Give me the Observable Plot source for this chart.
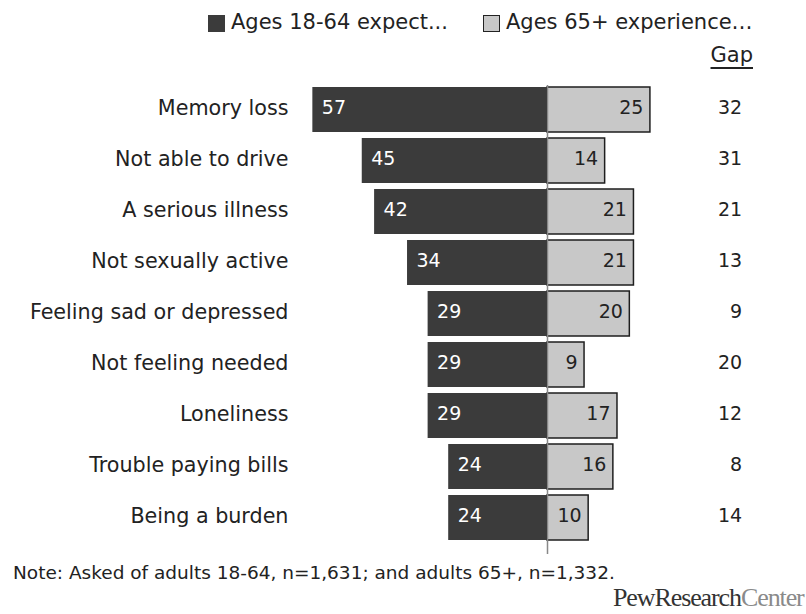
<!DOCTYPE html>
<html><head><meta charset="utf-8">
<script src="https://cdn.jsdelivr.net/npm/d3@7"></script>
<script src="https://cdn.jsdelivr.net/npm/@observablehq/plot@0.6"></script>
<style>
body{margin:0;background:#fff;font-family:"DejaVu Sans",sans-serif;color:#222;}
#wrap{position:relative;width:806px;height:614px;overflow:hidden;}
.sw{position:absolute;width:17px;height:17px;box-sizing:border-box;}
.lt{position:absolute;font-size:21px;line-height:21px;white-space:nowrap;}
#chart{position:absolute;left:0;top:70px;}
#note{position:absolute;left:13px;top:564px;font-size:18.5px;line-height:18.5px;white-space:nowrap;}
#pew{position:absolute;left:613px;top:585px;font-family:"Liberation Serif",serif;font-size:26px;line-height:26px;letter-spacing:-1.1px;color:#333;white-space:nowrap;}
#pew span{color:#8a8a8a;}
</style></head><body>
<div id="wrap">
  <div class="sw" style="left:208px;top:15px;background:#3b3b3b;"></div>
  <div class="lt" id="lg1" style="left:231px;top:12px;"></div>
  <div class="sw" style="left:483px;top:15px;background:#c8c8c8;border:1.5px solid #222;"></div>
  <div class="lt" id="lg2" style="left:506px;top:12px;"></div>
  <div class="lt" id="gaphdr" style="right:53px;top:45px;text-decoration:underline;text-decoration-thickness:2px;text-underline-offset:5px;"></div>
  <div id="chart"></div>
  <div id="note"></div>
  <div id="pew">PewResearch<span>Center</span></div>
</div>
<script>
const categories = ["Memory loss","Not able to drive","A serious illness","Not sexually active","Feeling sad or depressed","Not feeling needed","Loneliness","Trouble paying bills","Being a burden"];
const young = [57,45,42,34,29,29,29,24,24];
const old = [25,14,21,21,20,9,17,16,10];
const gaps = [32,31,21,13,9,20,12,8,14];
const seriesNames = ["Ages 18-64 expect...","Ages 65+ experience\u2026"];
const gapLabel = "Gap";
const noteText = "Note: Asked of adults 18-64, n=1,631; and adults 65+, n=1,332.";

document.getElementById("lg1").textContent = seriesNames[0];
document.getElementById("lg2").textContent = seriesNames[1];
document.getElementById("gaphdr").textContent = gapLabel;
document.getElementById("note").textContent = noteText;

const rows = categories.map((c,i)=>({cat:c, young:young[i], old:old[i], gap:gaps[i]}));
const GAP_X = 47.3;

const chart = Plot.plot({
  width:806, height:495,
  marginLeft:300, marginRight:12, marginTop:7, marginBottom:15,
  x:{domain:[-60,60], axis:null},
  y:{domain:categories, padding:0.12, label:null, axis:null},
  style:{fontFamily:"'DejaVu Sans', sans-serif", fontSize:"20.7px", color:"#222", background:"#fff"},
  marks:[
    Plot.axisY({tickSize:0, tickPadding:12, label:null, fontSize:20.7, dy:-2}),
    Plot.barX(rows,{y:"cat", x1:d=>-d.young, x2:0, fill:"#3b3b3b"}),
    Plot.barX(rows,{y:"cat", x1:0, x2:"old", fill:"#c8c8c8", stroke:"#1e1e1e", strokeWidth:1.5}),
    Plot.ruleX([0],{stroke:"#888", strokeWidth:1.5, insetTop:8, insetBottom:-4}),
    Plot.text(rows,{y:"cat", x:d=>-d.young, text:"young", textAnchor:"start", dx:9, dy:-2, fill:"white", fontSize:19}),
    Plot.text(rows,{y:"cat", x:"old", text:"old", textAnchor:"end", dx:-7, dy:-2, fill:"#222", fontSize:19}),
    Plot.text(rows,{y:"cat", x:()=>GAP_X, text:"gap", textAnchor:"end", dy:-2, fill:"#222", fontSize:19})
  ]
});
document.getElementById("chart").appendChild(chart);
</script>
</body></html>
